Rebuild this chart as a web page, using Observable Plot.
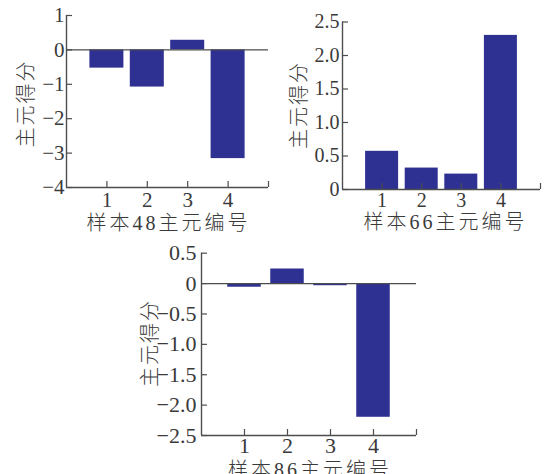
<!DOCTYPE html>
<html><head><meta charset="utf-8">
<script src="https://cdn.jsdelivr.net/npm/d3@7"></script>
<script src="https://cdn.jsdelivr.net/npm/@observablehq/plot@0.6"></script>
<style>
body{margin:0;background:#fff;}
#wrap{position:relative;width:556px;height:474px;overflow:hidden;background:#fff;}
.p{position:absolute;}
</style></head><body><div id="wrap"></div>
<script>
const components = [1, 2, 3, 4];
const scores48 = [-0.53, -1.08, 0.28, -3.16];
const scores66 = [0.57, 0.32, 0.23, 2.3];
const scores86 = [-0.06, 0.24, -0.035, -2.2];
const yTicks48 = [1, 0, -1, -2, -3, -4];
const yTicks66 = [0, 0.5, 1.0, 1.5, 2.0, 2.5];
const yTicks86 = [0.5, 0, -0.5, -1.0, -1.5, -2.0, -2.5];
const yLabel = "主元得分";
const xLabel48 = "样本48主元编号";
const xLabel66 = "样本66主元编号";
const xLabel86 = "样本86主元编号";

const FONT = "'Liberation Serif','Times New Roman','Noto Sans CJK SC',serif";
const TEXT = "#3a3a3a", LINE = "#4d4d4d", BAR = "#2e3192";
const fmtInt = d => (d < 0 ? "\u2212" : "") + Math.abs(d);
const fmt1 = d => d === 0 ? "0" : (d < 0 ? "\u2212" : "") + Math.abs(d).toFixed(1);

function panel(cfg) {
  const {scores, yDomain, yTicks, fmt, left, top, width, height, m, barPx, xLab, xPos, yPos, fs, padY, padX} = cfg;
  const data = components.map((k, i) => ({k, v: scores[i]}));
  const pxX = (width - m.l - m.r) / 5;
  const pxY = (height - m.t - m.b) / (yDomain[1] - yDomain[0]);
  const hw = barPx / 2 / pxX;
  const tx = 6 / pxX, ty = 6 / pxY;
  const svg = Plot.plot({
    width, height,
    marginLeft: m.l, marginRight: m.r, marginTop: m.t, marginBottom: m.b,
    x: {domain: [0, 5]},
    y: {domain: yDomain},
    style: {fontFamily: FONT, fontSize: fs + "px", color: TEXT, background: "transparent", overflow: "visible"},
    marks: [
      Plot.rect(data, {x1: d => d.k - hw, x2: d => d.k + hw, y1: 0, y2: "v", fill: BAR}),
      Plot.ruleY([0], {stroke: LINE, strokeWidth: 1.2}),
      Plot.ruleX([0], {stroke: LINE, strokeWidth: 1.4}),
      Plot.ruleY([yDomain[0]], {stroke: LINE, strokeWidth: 1.4}),
      Plot.ruleY(yTicks, {x1: 0, x2: tx, stroke: LINE, strokeWidth: 1.2}),
      Plot.ruleX([...components, 5], {y1: yDomain[0], y2: yDomain[0] + ty, stroke: LINE, strokeWidth: 1.2}),
      Plot.axisY(yTicks, {tickSize: 0, tickPadding: padY, tickFormat: fmt, fontSize: fs, label: null, fill: TEXT}),
      Plot.axisX(components, {tickSize: 0, tickPadding: padX, tickFormat: d => String(d), fontSize: fs, label: null, fill: TEXT})
    ]
  });
  const s = d3.select(svg);
  s.append("text").text(yLabel)
    .attr("x", yPos[0]).attr("y", yPos[1])
    .attr("transform", `rotate(-90, ${yPos[0]}, ${yPos[1]})`)
    .attr("text-anchor", "middle").attr("dominant-baseline", "central")
    .attr("fill", TEXT).attr("font-size", 20).attr("letter-spacing", 2)
    .attr("font-weight", 300).attr("font-family", FONT);
  s.append("text").text(xLab)
    .attr("x", xPos[0] + 1.5).attr("y", xPos[1])
    .attr("text-anchor", "middle").attr("dominant-baseline", "central")
    .attr("fill", TEXT).attr("font-size", 20).attr("letter-spacing", 3)
    .attr("font-weight", 300).attr("font-family", FONT);
  const div = document.createElement("div");
  div.className = "p";
  div.style.left = left + "px";
  div.style.top = top + "px";
  div.appendChild(svg);
  document.getElementById("wrap").appendChild(div);
}

panel({scores: scores48, yDomain: [-4, 1], yTicks: yTicks48, fmt: fmtInt,
  left: 0, top: 0, width: 280, height: 240, m: {l: 66, r: 12, t: 15, b: 53},
  barPx: 34, xLab: xLabel48, xPos: [167, 223], yPos: [25.5, 103.5], fs: 21, padY: 2, padX: 5});
panel({scores: scores66, yDomain: [0, 2.5], yTicks: yTicks66, fmt: fmt1,
  left: 280, top: 0, width: 276, height: 240, m: {l: 62, r: 16, t: 21.5, b: 51},
  barPx: 33, xLab: xLabel66, xPos: [164, 221.5], yPos: [19, 105], fs: 20, padY: 3, padX: 3});
panel({scores: scores86, yDomain: [-2.5, 0.5], yTicks: yTicks86, fmt: fmt1,
  left: 130, top: 235, width: 300, height: 239, m: {l: 71, r: 14, t: 17.7, b: 39},
  barPx: 33.5, xLab: xLabel86, xPos: [178.5, 235], yPos: [20, 108], fs: 22, padY: 5, padX: 2});
</script></body></html>
